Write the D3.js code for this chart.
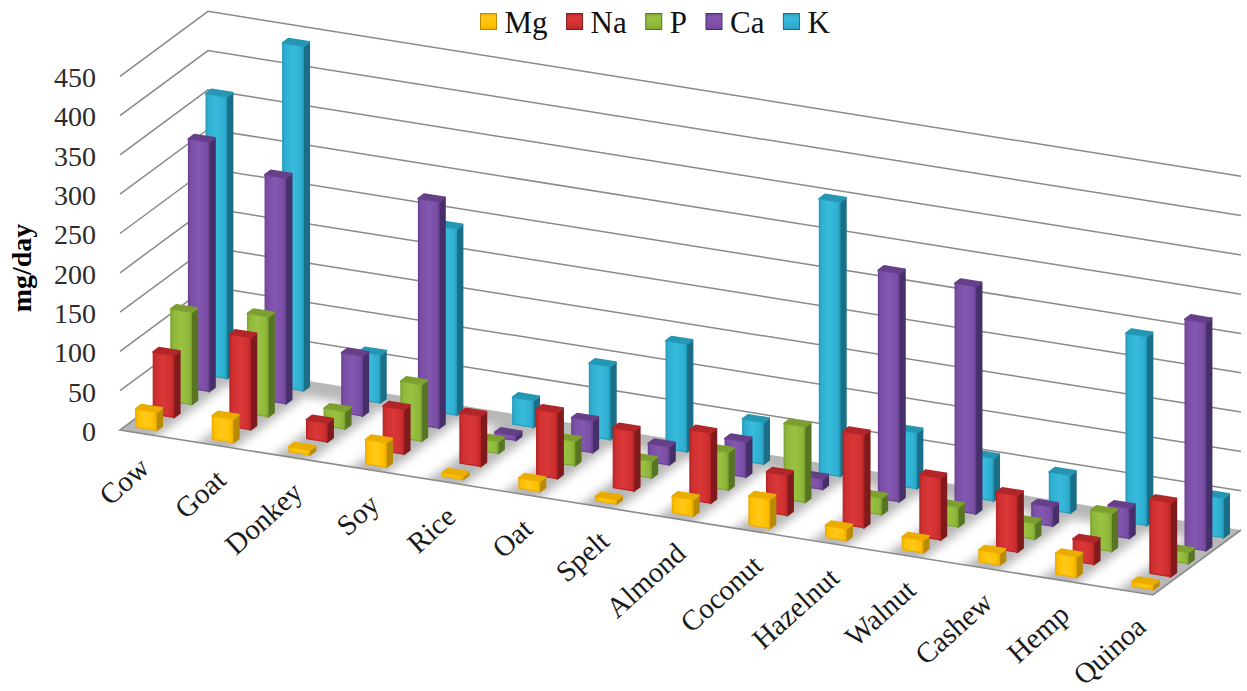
<!DOCTYPE html>
<html>
<head>
<meta charset="utf-8">
<script src="https://cdn.jsdelivr.net/npm/d3@7"></script>
<style>
  html, body { margin: 0; padding: 0; background: #fff; }
  svg { display: block; font-family: "Liberation Serif", "Times New Roman", serif; }
</style>
</head>
<body>
<svg id="chart" width="1247" height="691"></svg>
<script>
// Mineral content per product, mg/day
const categories = ["Cow", "Goat", "Donkey", "Soy", "Rice", "Oat", "Spelt", "Almond", "Coconut", "Hazelnut", "Walnut", "Cashew", "Hemp", "Quinoa"];
const seriesNames = ["Mg", "Na", "P", "Ca", "K"];
const mg = [23, 30, 6, 31, 4, 13, 5, 21, 37, 15, 16, 15, 26, 6];
const na = [79, 117, 24, 57, 64, 84, 76, 89, 51, 118, 79, 72, 28, 94];
const p  = [117, 127, 22, 72, 15, 31, 21, 48, 96, 21, 25, 20, 48, 14];
const ca = [317, 287, 76, 288, 6, 40, 23, 45, 13, 290, 289, 24, 38, 290];
const k  = [358, 438, 61, 237, 34, 93, 137, 53, 349, 71, 54, 48, 240, 50];
const valueTicks = [0, 50, 100, 150, 200, 250, 300, 350, 400, 450];

const seriesValues = [mg, na, p, ca, k];
const palette = [
  { front: "#FFC000", edge: "#EFAE00", light: "#FFC91A", side: "#B98A05", top: "#EBAC00" },
  { front: "#CF2F2F", edge: "#B92628", light: "#D93838", side: "#7F1B1D", top: "#B02629" },
  { front: "#8FB83B", edge: "#7FA632", light: "#9AC343", side: "#587524", top: "#7D9F30" },
  { front: "#7B4FA6", edge: "#6C4394", light: "#8457B0", side: "#46306A", top: "#654089" },
  { front: "#2FB0D2", edge: "#279DBD", light: "#37BADB", side: "#1B6E87", top: "#2596B4" }
];

const svg = d3.select("#chart");
const defs = svg.append("defs");

// Oblique projection: origin at the front-left floor corner
const origin = [120, 430];
const widthVec = [1033, 165];
const depthVec = [88, -65];

const yScale = d3.scaleLinear().domain([0, 450]).range([430, 76.3]);
const xScale = d3.scalePoint().domain(categories).range([20 / 1033, 1 - 16.4 / 1033]);
const zScale = d3.scaleBand().domain(seriesNames).range([0, 1]).paddingInner(0.675).paddingOuter(0.3375);
const barWidth = 20.5 / 1033;

function project(u, d, v) {
  return [
    origin[0] + u * widthVec[0] + d * depthVec[0],
    origin[1] + u * widthVec[1] + d * depthVec[1] + yScale(v) - yScale(0)
  ];
}
const poly = pts => pts.map(p => p.map(n => n.toFixed(2)).join(",")).join(" ");

// Shaded fills for the bar fronts and legend keys
palette.forEach((c, i) => {
  const g = defs.append("linearGradient").attr("id", "front" + i)
    .attr("x1", 0).attr("x2", 1).attr("y1", 0).attr("y2", 0);
  [[0, c.edge], [0.12, c.front], [0.5, c.light], [0.88, c.front], [1, c.edge]].forEach(([o, col]) =>
    g.append("stop").attr("offset", o).attr("stop-color", col));
  const v = defs.append("linearGradient").attr("id", "key" + i)
    .attr("x1", 0).attr("x2", 0).attr("y1", 0).attr("y2", 1);
  [[0, c.edge], [0.25, c.light], [0.75, c.front], [1, c.edge]].forEach(([o, col]) =>
    v.append("stop").attr("offset", o).attr("stop-color", col));
});
defs.append("filter").attr("id", "soft").attr("x", "-30%").attr("width", "160%")
  .append("feGaussianBlur").attr("stdDeviation", 5);
defs.append("clipPath").attr("id", "floorClip").append("polygon")
  .attr("points", poly([project(0, 0, 0), project(1, 0, 0), project(1, 1, 0), project(0, 1, 0)]));

// Wall gridlines
const grid = svg.append("g").attr("fill", "none").attr("stroke", "#8a8a8a").attr("stroke-width", 1.5);
grid.selectAll("polyline").data(valueTicks.slice(1)).join("polyline")
  .attr("points", v => poly([project(0, 0, v), project(0, 1, v), project(1, 1, v)]));

// Floor with pale bands running between the category rows
const floor = svg.append("g");
floor.append("polygon")
  .attr("points", poly([project(0, 0, 0), project(1, 0, 0), project(1, 1, 0), project(0, 1, 0)]))
  .attr("fill", "#b8b8b8");
const step = xScale.step();
floor.append("g").attr("clip-path", "url(#floorClip)").selectAll("polygon")
  .data(categories.slice(0, -1)).join("polygon")
  .attr("filter", "url(#soft)")
  .attr("fill", "#ffffff")
  .attr("points", c => {
    const u = xScale(c) + step / 2, h = step * 0.27;
    return poly([project(u - h, -0.2, 0), project(u + h, -0.2, 0), project(u + h, 0.8, 0), project(u - h, 0.8, 0)]);
  });
floor.append("polyline")
  .attr("points", poly([project(0, 1, 0), project(0, 0, 0), project(1, 0, 0), project(1, 1, 0)]))
  .attr("fill", "none").attr("stroke", "#8a8a8a").attr("stroke-width", 1.6);

// Bars: rear series first so nearer rows overlap them
const bars = [];
seriesNames.slice().reverse().forEach(name => {
  const s = seriesNames.indexOf(name);
  categories.forEach((cat, i) => bars.push({ cat, name, s, value: seriesValues[s][i] }));
});

const barGroups = svg.append("g").selectAll("g").data(bars).join("g")
  .attr("stroke-linejoin", "round").attr("stroke-width", 2.2);

barGroups.each(function (b) {
  const g = d3.select(this), c = palette[b.s];
  const u0 = xScale(b.cat) - barWidth / 2, u1 = xScale(b.cat) + barWidth / 2;
  const d0 = zScale(b.name), d1 = d0 + zScale.bandwidth();
  g.append("polygon").attr("fill", c.side).attr("stroke", c.side)
    .attr("points", poly([project(u1, d0, 0), project(u1, d1, 0), project(u1, d1, b.value), project(u1, d0, b.value)]));
  g.append("polygon").attr("fill", c.top).attr("stroke", c.top)
    .attr("points", poly([project(u0, d0, b.value), project(u1, d0, b.value), project(u1, d1, b.value), project(u0, d1, b.value)]));
  g.append("polygon").attr("fill", `url(#front${b.s})`).attr("stroke", c.edge).attr("stroke-width", 1.2)
    .attr("points", poly([project(u0, d0, 0), project(u1, d0, 0), project(u1, d0, b.value), project(u0, d0, b.value)]));
});

// Value axis labels
const axis = d3.axisLeft(yScale).tickValues(valueTicks).tickSize(0).tickPadding(0);
const axisG = svg.append("g").attr("transform", "translate(96,0)").call(axis);
axisG.select(".domain").remove();
axisG.selectAll("text")
  .attr("font-size", 28).attr("font-family", "Liberation Serif")
  .attr("fill", "#2b2b2b").attr("dy", "0.37em");

svg.append("text")
  .attr("transform", "translate(31,268) rotate(-90)")
  .attr("text-anchor", "middle").attr("font-size", 28).attr("font-weight", "bold")
  .text("mg/day");

// Category labels below the front edge of the floor
svg.append("g").selectAll("text").data(categories).join("text")
  .attr("transform", c => {
    const [x, y] = project(xScale(c), 0, 0);
    return `translate(${x + 11},${y + 37}) rotate(-42)`;
  })
  .attr("text-anchor", "end").attr("font-size", 29).attr("fill", "#1a1a1a")
  .text(d => d);

// Legend laid out left to right along the top
const legend = svg.append("g");
let cursor = 480;
seriesNames.forEach((name, i) => {
  legend.append("rect").attr("x", cursor + 0.5).attr("y", 13.5).attr("width", 16).attr("height", 16)
    .attr("fill", `url(#key${i})`).attr("stroke", palette[i].side).attr("stroke-width", 1);
  const t = legend.append("text").attr("x", cursor + 24.5).attr("y", 33).attr("font-size", 31).attr("fill", "#111").text(name);
  cursor += 24.5 + t.node().getComputedTextLength() + 18.5;
});
</script>
</body>
</html>
